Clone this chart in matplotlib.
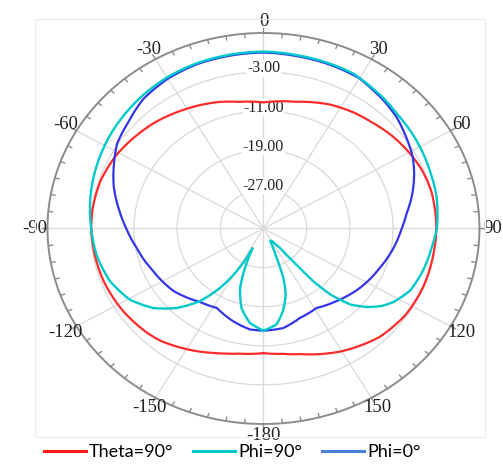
import numpy as np
import matplotlib
matplotlib.use("Agg")
import matplotlib.pyplot as plt
from matplotlib.lines import Line2D
from matplotlib.patches import Rectangle

# gain patterns in dB, angle in degrees (0 at top, clockwise)
theta90_ang = [-180, -170, -165, -160, -150, -140, -135, -123, -110, -100, -90, -83, -72, -61, -54,
               -43, -31, -18, -10, 0, 13, 26, 35, 43, 51, 61, 68, 76, 90, 100, 112, 124, 136,
               150, 165, 172, 180]
theta90_db = [-9.5, -9.0, -8.5, -7.9, -6.5, -5.1, -4.7, -4.0, -3.5, -3.3, -3.1, -3.1, -3.3, -3.9, -4.5,
              -5.4, -6.6, -7.8, -8.7, -9.2, -8.4, -6.8, -6.0, -5.4, -4.6, -3.8, -3.3, -3.0, -3.0, -3.1,
              -3.1, -3.3, -4.1, -6.0, -8.4, -9.1, -9.5]

phi90_ang = [-180, -172.6, -166, -160.4, -157, -155, -153.4, -152.7, -150.4, -146.5, -141.6, -135.3,
             -128.6, -120.6, -110.8, -99.8, -90, -78.5, -66.6, -55, -45, -40, -30, -20, -10, 0,
             10, 20, 27.6, 35, 40, 46, 57, 69, 78.5, 90, 97, 106, 115, 122, 126, 130, 134, 137.5,
             139.5, 140.5, 142.5, 148, 154, 156, 158, 160, 163, 168, 173, 180]
phi90_db = [-14.1, -15.5, -18.2, -22.1, -26.2, -28.8, -30.5, -28.2, -24.9, -20.4, -16.0, -12.1,
            -8.9, -6.3, -4.6, -3.6, -3.1, -2.3, -1.5, -0.7, -0.1, 0.2, 0.7, 1.0, 1.1, 1.2,
            1.0, 0.9, 0.8, 0.1, -0.3, -0.9, -1.4, -2.0, -2.3, -2.9, -3.6, -4.2, -5.0, -6.6, -8.0,
            -10.0, -12.6, -16.7, -20.8, -25.4, -30.0, -32.0, -32.2, -30.5, -28.5, -24.2, -20.9,
            -17.7, -15.2, -14.1]

phi0_ang = [-180, -173, -163.6, -152, -141.8, -127.5, -113.2, -99.7, -90, -81.9, -72.9, -64.4, -57.3,
            -49.5, -40, -30, -20, -10, 0, 10, 20, 30, 35, 40, 47, 54.5, 62, 68, 75.4, 83.3, 90,
            99.5, 110.5, 124.3, 137.6, 148.9, 159.7, 169.8, 180]
phi0_db = [-14.1, -14.2, -15.2, -16.6, -15.9, -14.0, -12.8, -11.2, -9.6, -8.0, -6.0, -4.3, -2.8,
           -1.9, -0.4, 0.4, 0.8, 0.9, 1.0, 0.8, 0.7, 0.5, -0.1, -0.6, -1.4, -2.6, -3.7, -4.9, -6.5,
           -8.3, -9.4, -10.6, -12.0, -13.4, -14.9, -16.0, -15.5, -14.3, -14.1]

ring_db = [-27, -19, -11, -3]
r_min, r_max = -35, 5
angle_ticks = [0, 30, 60, 90, 120, 150, 180, 210, 240, 270, 300, 330]
angle_labels = ["0", "30", "60", "90", "120", "150", "-180", "-150", "-120", "-90", "-60", "-30"]

red = "#ff2b2b"
cyan = "#00c9c9"
blue = "#3535e8"

fig = plt.figure(figsize=(5.03, 4.74), dpi=100)
ax = fig.add_axes([0.0944, 0.1055, 0.8588, 0.8249], projection="polar")
ax.set_aspect("auto")
ax.set_theta_zero_location("N")
ax.set_theta_direction(-1)

lines = []
lines += ax.plot(np.deg2rad(theta90_ang), theta90_db, color=red, lw=1.6, zorder=3)
lines += ax.plot(np.deg2rad(phi0_ang), phi0_db, color=blue, lw=1.6, zorder=3)
lines += ax.plot(np.deg2rad(phi90_ang), phi90_db, color=cyan, lw=1.7, zorder=4)
# draw segments as polar arcs instead of straight chords
for ln in lines:
    ln.get_path()._interpolation_steps = 12

ax.set_rlim(r_min, r_max)
ax.set_yticks(ring_db)
ax.set_yticklabels([])
ax.set_xticks(np.deg2rad(angle_ticks))
ax.set_xticklabels([])
ax.tick_params(axis="x", length=0)
ax.grid(color="#d9d9d9", lw=0.9)
ax.spines["polar"].set_color("#8c8c8c")
ax.spines["polar"].set_linewidth(1.4)

# small ticks every 5 deg on the rim, longer outward ones every 30
for a in range(0, 360, 5):
    t = np.deg2rad(a)
    if a % 30 == 0:
        ax.plot([t, t], [r_max, r_max + 1.0], color="#8c8c8c", lw=1.0, clip_on=False)
    else:
        ax.plot([t, t], [r_max, r_max - 0.8], color="#8c8c8c", lw=1.0, clip_on=False)

for a, lab in zip(angle_ticks, angle_labels):
    ax.text(np.deg2rad(a), r_max + 2.4, lab, ha="center", va="center", fontsize=13.5,
            family="Liberation Serif", color="#222222", clip_on=False)

for r in ring_db:
    ax.text(0, r + 0.75, "%.2f" % r, ha="center", va="center", fontsize=11.5,
            family="Liberation Serif", color="#222222", zorder=2.5,
            bbox=dict(fc="white", ec="none", pad=0.3))

# faint frame round the plot area
fig.patches.append(Rectangle((35 / 503, 37 / 474), 450 / 503, 418 / 474, transform=fig.transFigure,
                             fill=False, ec="#ececec", lw=0.8))

handles = [Line2D([], [], color="#ff1a1a", lw=2.2),
           Line2D([], [], color="#00c8c8", lw=2.2),
           Line2D([], [], color="#4a7fd8", lw=2.2)]
fig.legend(handles, ["Theta=90°", "Phi=90°", "Phi=0°"], loc="center",
           bbox_to_anchor=(0.462, 0.046), ncol=3, frameon=False,
           prop={"family": "Lato", "size": 13}, handlelength=2.3,
           handletextpad=0.2, columnspacing=1.1)

fig.savefig("out.png", dpi=100)
